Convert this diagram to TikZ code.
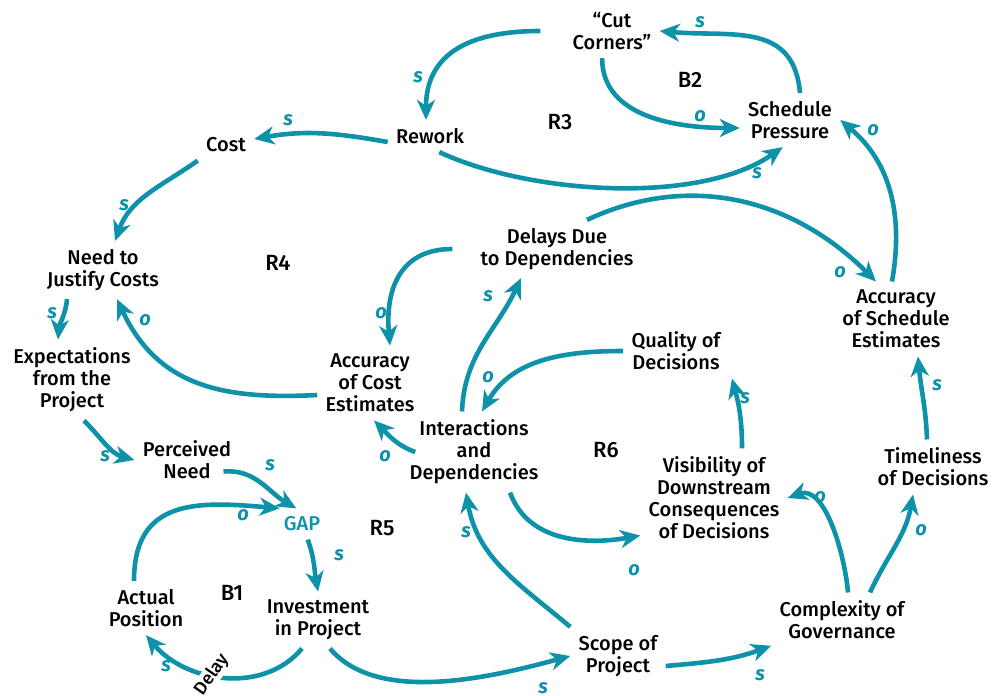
\documentclass[tikz,border=0pt]{standalone}
\usepackage{fontspec}
\setmainfont{Fira Sans}[UprightFont={* Medium}, ItalicFont={* Medium Italic}, BoldFont={* Bold}, BoldItalicFont={* Bold Italic}]
\usetikzlibrary{arrows.meta}
\definecolor{loopteal}{RGB}{14,146,170}
\tikzset{
  var/.style={align=center, inner sep=4pt, font=\fontsize{10}{11}\selectfont},
  link/.style={draw=loopteal, line width=2.3pt, -{Stealth[length=10pt,width=9pt,inset=3pt]}},
  pol/.style={text=loopteal, font=\fontsize{10}{11}\selectfont\bfseries\itshape},
  loopname/.style={font=\fontsize{11}{12}\selectfont},
}
\begin{document}
\begin{tikzpicture}[x=0.5pt,y=0.5pt]
\useasboundingbox (0,0) rectangle (996,-696);
% variables
\node[var] (cut) at (612,-31) {“Cut\\Corners”};
\node[var] (sched) at (790,-120) {Schedule\\Pressure};
\node[var] (rework) at (430,-136) {Rework};
\node[var] (cost) at (226,-145) {Cost};
\node[var] (need) at (103,-270) {Need to\\Justify Costs};
\node[var] (expect) at (72,-380) {Expectations\\from the\\Project};
\node[var] (perceived) at (187,-460) {Perceived\\Need};
\node[var, text=loopteal] (gap) at (302,-524) {GAP};
\node[var] (actual) at (146,-608) {Actual\\Position};
\node[var] (invest) at (318,-620) {Investment\\in Project};
\node[var] (scope) at (618,-656) {Scope of\\Project};
\node[var] (complex) at (842,-620) {Complexity of\\Governance};
\node[var] (timely) at (933,-467) {Timeliness\\of Decisions};
\node[var] (accsched) at (896,-319) {Accuracy\\of Schedule\\Estimates};
\node[var] (delays) at (557,-249) {Delays Due\\to Dependencies};
\node[var] (acccost) at (370,-383) {Accuracy\\of Cost\\Estimates};
\node[var] (inter) at (474,-452) {Interactions\\and\\Dependencies};
\node[var] (quality) at (676,-351) {Quality of\\Decisions};
\node[var] (visib) at (714,-498) {Visibility of\\Downstream\\Consequences\\of Decisions};
% loop names
\node[loopname] (r3) at (560,-122) {R3};
\node[loopname] (b2) at (690,-80) {B2};
\node[loopname] (r4) at (278,-263) {R4};
\node[loopname] (r5) at (382,-528) {R5};
\node[loopname] (b1) at (232,-593) {B1};
\node[loopname] (r6) at (606,-450) {R6};
% links
\draw[link] ([xshift=-12pt]cut.west) to[out=180,in=90,looseness=1.2] ([xshift=-2pt]rework.north);
\draw[link] ([xshift=5pt]sched.north) to[out=95,in=-5,looseness=1.2] (cut.east);
\draw[link] (cut.250) to[out=-90,in=180] ([yshift=-4pt]sched.west);
\draw[link] (rework.-60) to[out=-25,in=215,looseness=0.75] (sched.255);
\draw[link] ([yshift=-3pt]rework.west) to[out=170,in=10] ([yshift=3pt]cost.east);
\draw[link] (cost.south west) to[out=215,in=70] ([xshift=6pt]need.north);
\draw[link] ([xshift=-18pt]need.south) to[out=-95,in=85] ([xshift=-7pt]expect.north);
\draw[link] ([yshift=-6pt]acccost.west) to[out=183,in=-65,looseness=1.1] ([xshift=7pt]need.south);
\draw[link] ([xshift=6pt]expect.south) to[out=-45,in=165] (perceived.west);
\draw[link] ([xshift=-8pt,yshift=8pt]perceived.south east) to[out=5,in=150] (gap.110);
\draw[link] ([xshift=-6pt]actual.north) to[out=90,in=175,looseness=1.3] (gap.145);
\draw[link] (gap.-70) to[out=-70,in=100] (invest.north);
\draw[link] ([xshift=-8pt]invest.south) to[out=230,in=-50]
  node[pos=0.57, fill=white, inner sep=0.5pt, rotate=55, font=\fontsize{9}{10}\selectfont] (delay) {Delay} (actual.south);
\draw[link] ([xshift=6pt]invest.south) to[out=-50,in=195,looseness=0.8] (scope.west);
\draw[link] ([yshift=-5pt]scope.east) to[out=5,in=200] (complex.200);
\draw[link] (scope.north west) to[out=140,in=-80] ([xshift=-4pt]inter.south);
\draw[link] ([xshift=7pt]inter.west) to[out=160,in=-45] ([xshift=2pt]acccost.south);
\draw[link] ([xshift=-6pt]inter.north) to[out=88,in=245] ([xshift=-18pt]delays.south);
\draw[link] ([xshift=-10pt]delays.west) to[out=180,in=95,looseness=1.2] ([xshift=10pt]acccost.north);
\draw[link] ([xshift=15pt]delays.north) to[out=25,in=135] ([xshift=-10pt]accsched.north);
\draw[link] ([xshift=-2pt]accsched.north) to[out=80,in=-40] (sched.east);
\draw[link] (quality.west) to[out=180,in=60] ([xshift=4pt]inter.north);
\draw[link] ([xshift=18pt]inter.south) to[out=-70,in=190] ([yshift=6pt]visib.south west);
\draw[link] ([xshift=14pt]visib.north) to[out=90,in=-75] ([xshift=28pt]quality.south);
\draw[link] ([xshift=3pt]complex.north) to[out=95,in=20,looseness=0.9] (visib.east);
\draw[link] ([xshift=14pt]complex.north) to[out=65,in=-100] ([xshift=-10pt]timely.south);
\draw[link] ([xshift=-3pt]timely.north) to[out=92,in=-85] ([xshift=11pt]accsched.south);
% polarities
\node[pol] (p1) at (418,-77) {s};
\node[pol] (p2) at (700,-22) {s};
\node[pol] (p3) at (700,-116) {o};
\node[pol] (p4) at (757,-173) {s};
\node[pol] (p5) at (288,-120) {s};
\node[pol] (p6) at (124,-205) {s};
\node[pol] (p7) at (52,-313) {s};
\node[pol] (p8) at (145,-320) {o};
\node[pol] (p9) at (105,-456) {s};
\node[pol] (p10) at (270,-465) {s};
\node[pol] (p11) at (243,-515) {o};
\node[pol] (p12) at (339,-555) {s};
\node[pol] (p13) at (166,-666) {s};
\node[pol] (p14) at (543,-688) {s};
\node[pol] (p15) at (760,-675) {s};
\node[pol] (p16) at (466,-532) {s};
\node[pol] (p17) at (385,-456) {o};
\node[pol] (p18) at (488,-296) {s};
\node[pol] (p19) at (381,-313) {o};
\node[pol] (p20) at (840,-272) {o};
\node[pol] (p21) at (873,-130) {o};
\node[pol] (p22) at (488,-377) {o};
\node[pol] (p23) at (634,-570) {o};
\node[pol] (p24) at (745,-398) {s};
\node[pol] (p25) at (820,-497) {o};
\node[pol] (p26) at (921,-530) {o};
\node[pol] (p27) at (937,-385) {s};
\end{tikzpicture}
\end{document}
